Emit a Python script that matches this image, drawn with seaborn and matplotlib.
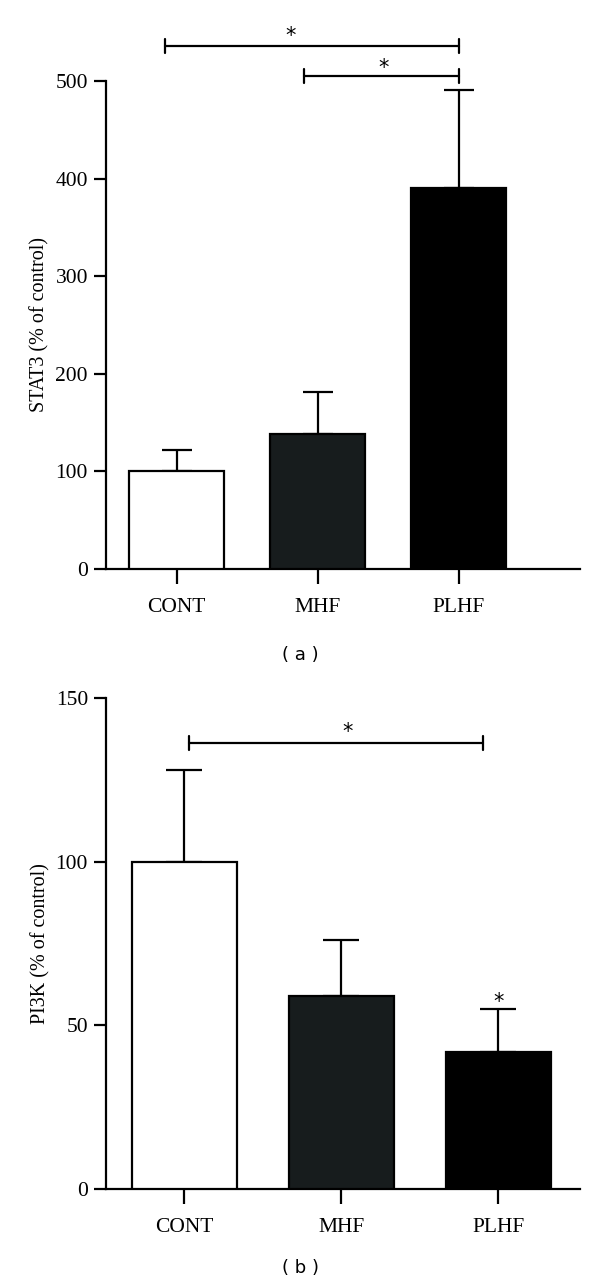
import pandas as pd
import seaborn as sns
import matplotlib.pyplot as plt

# group names and colours
groups = ["CONT", "MHF", "PLHF"]
bar_colors = ["#ffffff", "#161d1e", "#000000"]

# panel (a) STAT3, % of control
stat3_mean = [100, 138, 390]
stat3_err = [22, 43, 101]

# panel (b) PI3K, % of control
pi3k_mean = [100, 59, 42]
pi3k_err = [28, 17, 13]

sns.set_style("ticks")
plt.rcParams["font.family"] = ["Liberation Serif", "DejaVu Serif"]
plt.rcParams.update({
    "text.color": "black", "axes.labelcolor": "black",
    "xtick.color": "black", "ytick.color": "black",
    "axes.edgecolor": "black",
})

fig = plt.figure(figsize=(6, 12.84), dpi=100)
ax_a = fig.add_axes([0.1767, 0.5569, 0.79, 0.380])
ax_b = fig.add_axes([0.1767, 0.0740, 0.79, 0.3824])


def draw_panel(ax, means, errs, ylabel, yticks, xmax, capsize):
    df = pd.DataFrame({"group": groups, "value": means})
    sns.barplot(
        data=df, x="group", y="value", hue="group",
        palette=bar_colors, legend=False, width=0.67,
        edgecolor="black", linewidth=1.6, ax=ax, zorder=3
    )
    ax.errorbar(
        range(len(groups)), means, yerr=[[0] * len(errs), errs],
        fmt="none", ecolor="black", elinewidth=1.6,
        capsize=capsize, capthick=1.6, zorder=2
    )
    ax.set_xlim(-0.5, xmax)
    ax.set_ylim(0, yticks[-1])
    ax.set_yticks(yticks)
    ax.set_xlabel("")
    ax.set_ylabel(ylabel, fontsize=14.5, labelpad=4)
    sns.despine(ax=ax)
    for s in ["left", "bottom"]:
        ax.spines[s].set_linewidth(1.6)
    ax.tick_params(axis="both", length=9, width=1.6, labelsize=15.5, pad=4)
    ax.tick_params(axis="x", length=11, pad=10)


def bracket(ax, x0, x1, y, h, star_x, star_y):
    ax.plot([x0, x1], [y, y], color="black", lw=1.6, clip_on=False)
    ax.plot([x0, x0], [y - h, y + h], color="black", lw=1.6, clip_on=False)
    ax.plot([x1, x1], [y - h, y + h], color="black", lw=1.6, clip_on=False)
    ax.text(star_x, star_y, "*", ha="center", va="center", fontsize=15,
            family="DejaVu Sans", clip_on=False)


draw_panel(ax_a, stat3_mean, stat3_err, "STAT3 (% of control)",
           [0, 100, 200, 300, 400, 500], 2.86, 11)
bracket(ax_a, -0.08, 2.0, 536, 7.5, 0.81, 546)
bracket(ax_a, 0.90, 2.0, 505, 7.5, 1.47, 513)

draw_panel(ax_b, pi3k_mean, pi3k_err, "PI3K (% of control)",
           [0, 50, 100, 150], 2.52, 13)
bracket(ax_b, 0.03, 1.90, 136.3, 2.2, 1.04, 139.5)
ax_b.text(2, 57.0, "*", ha="center", va="center", fontsize=15,
          family="DejaVu Sans")

fig.text(0.5, 1 - 655 / 1284, "( a )", ha="center", va="center",
         fontsize=13, family="DejaVu Sans")
fig.text(0.5, 1 - 1268 / 1284, "( b )", ha="center", va="center",
         fontsize=13, family="DejaVu Sans")

fig.savefig("out.png", dpi=100)
